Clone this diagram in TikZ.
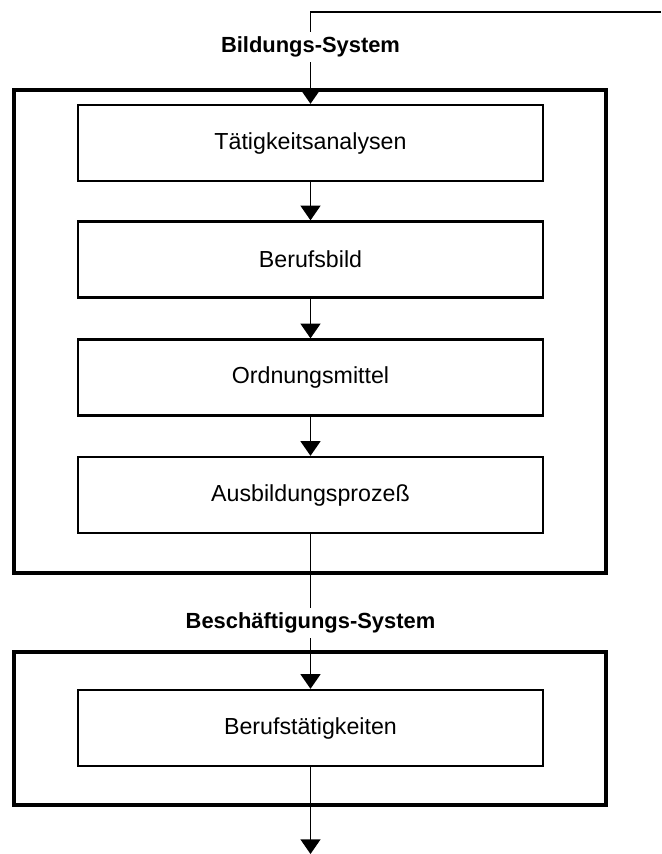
\documentclass[tikz,border=0pt]{standalone}
\usepackage{fontspec}
\setmainfont{Liberation Sans}
\usetikzlibrary{arrows.meta}
\tikzset{
  system/.style = { draw, line width=3.2pt, minimum width=17.76cm },
  stage/.style  = { draw, line width=2pt, minimum width=13.95cm, minimum height=2.28cm, font=\fontsize{19.8}{24}\selectfont },
  title/.style  = { fill=white, inner xsep=2pt, inner ysep=4pt, font=\bfseries\fontsize{18.7}{22}\selectfont },
  flow/.style   = { line width=1.2pt, -{Triangle[width=17pt,length=12.5pt]} },
  link/.style   = { line width=1.2pt }
}

\begin{document}
\begin{tikzpicture}[x=0.03cm,y=-0.03cm]
  \useasboundingbox (0,0) rectangle (661,854);
  % Draw both systems
  \node[system, minimum height=14.49cm] (bsys) at (310,331.5) {};
  \node[system, minimum height=4.59cm]  (esys) at (310,728.5) {};
  % Draw the stages
  \node[stage] (tat) at (310.5,143)   {Tätigkeitsanalysen};
  \node[stage] (bild) at (310.5,259.5) {Berufsbild};
  \node[stage] (ord) at (310.5,377.5) {Ordnungsmittel};
  \node[stage] (aus) at (310.5,495)   {Ausbildungsprozeß};
  \node[stage] (tät) at (310.5,728)   {Berufstätigkeiten};
  % Draw titles
  \node[title] (btitle) at (310.5,47)  {Bildungs-System};
  \node[title] (etitle) at (310.5,623) {Beschäftigungs-System};
  % Draw the flow
  \coordinate (feedback) at (661,12);
  \coordinate (corner) at (btitle |- feedback);
  \coordinate (out) at (310.5,854);
  \draw[link] (feedback) -- (corner) -- (btitle);
  \draw[flow] (btitle) -- (tat);
  \draw[flow] (tat) -- (bild);
  \draw[flow] (bild) -- (ord);
  \draw[flow] (ord) -- (aus);
  \draw[link] (aus) -- (etitle);
  \draw[flow] (etitle) -- (tät);
  \draw[flow] (tät) -- (out);
\end{tikzpicture}
\end{document}
